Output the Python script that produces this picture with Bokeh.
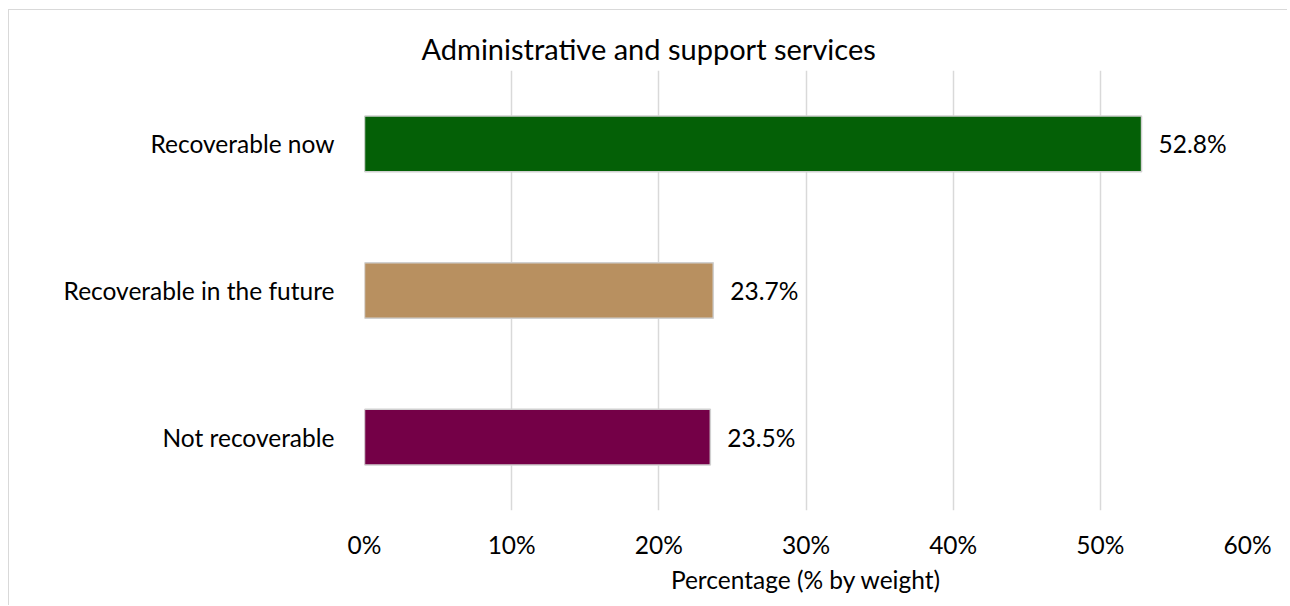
from bokeh.plotting import figure
from bokeh.models import ColumnDataSource, NumeralTickFormatter, FixedTicker, Range1d, LabelSet
from bokeh.core.properties import value
from bokeh.embed import file_html
from bokeh.resources import INLINE

categories = ["Recoverable now", "Recoverable in the future", "Not recoverable"]
values = [0.528, 0.237, 0.235]
colors = ["#046006", "#B89060", "#740047"]
labels = ["52.8%", "23.7%", "23.5%"]
ticks = [0, 0.1, 0.2, 0.3, 0.4, 0.5, 0.6]

FONT = "Lato"
FS = "24.5px"

src = ColumnDataSource(dict(cat=categories, val=values, color=colors, lab=labels))

p = figure(width=1279, height=596, y_range=list(reversed(categories)),
           x_range=Range1d(0, 0.6), output_backend="svg", toolbar_location=None,
           min_border_left=355, min_border_right=41, min_border_top=60, min_border_bottom=96)

p.hbar(y="cat", right="val", left=0, height=0.38, source=src, fill_color="color",
       line_color="#D0D0D0", line_width=1.5)

p.add_layout(LabelSet(x="val", y="cat", text="lab", source=src, x_offset=17,
                      text_baseline="middle", text_font=value(FONT), text_font_size=FS,
                      text_color="#000000"))

p.title.text = "Administrative and support services"
p.title.text_font = FONT
p.title.text_font_size = "29px"
p.title.text_font_style = "normal"
p.title.align = "left"
p.title.offset = 57
p.title.text_color = "#000000"

xa = p.xaxis[0]
xa.ticker = FixedTicker(ticks=ticks)
xa.formatter = NumeralTickFormatter(format="0%")
xa.axis_line_color = None
xa.major_tick_line_color = None
xa.minor_tick_line_color = None
xa.major_label_text_font = FONT
xa.major_label_text_font_size = FS
xa.major_label_text_color = "#000000"
xa.major_label_standoff = 13
xa.axis_label = "Percentage (% by weight)"
xa.axis_label_text_font = FONT
xa.axis_label_text_font_size = FS
xa.axis_label_text_font_style = "normal"
xa.axis_label_text_color = "#000000"
xa.axis_label_standoff = 3

ya = p.yaxis[0]
ya.axis_line_color = None
ya.major_tick_line_color = None
ya.minor_tick_line_color = None
ya.major_label_text_font = FONT
ya.major_label_text_font_size = FS
ya.major_label_text_color = "#000000"
ya.major_label_standoff = 24

p.ygrid.grid_line_color = None
p.xgrid.grid_line_color = "#D9D9D9"
p.xgrid.grid_line_width = 1.5
p.outline_line_color = None
p.styles = {"margin-left": "8px", "margin-top": "9px",
            "border-left": "1px solid #D9D9D9", "border-top": "1px solid #D9D9D9"}

open("out.html", "w").write(file_html(p, INLINE))
